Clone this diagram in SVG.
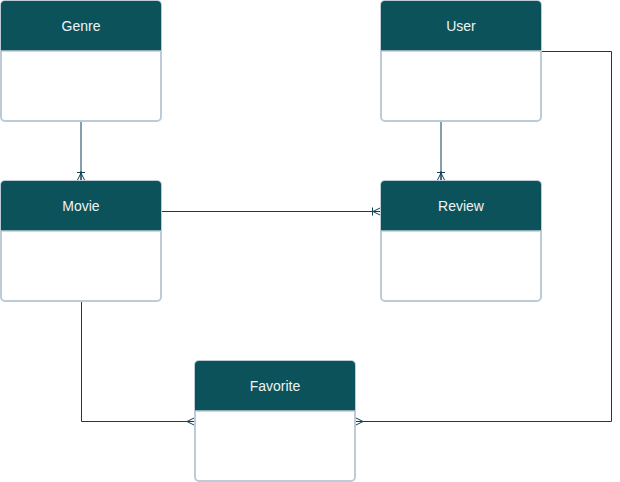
<svg xmlns="http://www.w3.org/2000/svg" width="620" height="482" viewBox="0 0 620 482">
  <style>
    .box { fill: #ffffff; stroke: #bccbd6; stroke-width: 2; }
    .head { fill: #0b525b; }
    .sep { stroke: #bccbd6; stroke-width: 1.5; }
    .title { font-family: "Liberation Sans", Arial, sans-serif; font-size: 14px; fill: #eef4f4; text-anchor: middle; }
    .link { fill: none; stroke: #0e3f57; stroke-width: 1; }
  </style>
  <defs>
    <!-- one-or-many end: bar plus crow's foot -->
    <marker id="oneMany" markerUnits="userSpaceOnUse" viewBox="0 0 10 10" refX="10" refY="5" markerWidth="10" markerHeight="10" orient="auto">
      <path d="M1.5 1 L1.5 9 M2 5 L10 1 M2 5 L10 9 M0 5 L10 5" fill="none" stroke="#0e3f57" stroke-width="1"/>
    </marker>
    <!-- many end: crow's foot only -->
    <marker id="many" markerUnits="userSpaceOnUse" viewBox="0 0 10 10" refX="10" refY="5" markerWidth="10" markerHeight="10" orient="auto">
      <path d="M2 5 L10 1 M2 5 L10 9 M0 5 L10 5" fill="none" stroke="#0e3f57" stroke-width="1"/>
    </marker>
  </defs>

  <g id="connectors">
    <path class="link" d="M81 122 L81 181" marker-end="url(#oneMany)"/>
    <path class="link" d="M441 122 L441 181" marker-end="url(#oneMany)"/>
    <path class="link" d="M162 211.5 L381 211.5" marker-end="url(#oneMany)"/>
    <path class="link" d="M81.5 302 L81.5 421.5 L195 421.5" marker-end="url(#many)"/>
    <path class="link" d="M542 51.5 L611.5 51.5 L611.5 421.5 L355 421.5" marker-end="url(#many)"/>
  </g>

  <g id="genre">
    <rect class="box" x="1" y="1" width="160" height="120" rx="4"/>
    <path class="head" d="M1 5 Q1 1 5 1 L157 1 Q161 1 161 5 L161 51 L1 51 Z"/>
    <line class="sep" x1="1" y1="51" x2="161" y2="51"/>
    <text class="title" x="81" y="31">Genre</text>
  </g>

  <g id="user">
    <rect class="box" x="381" y="1" width="160" height="120" rx="4"/>
    <path class="head" d="M381 5 Q381 1 385 1 L537 1 Q541 1 541 5 L541 51 L381 51 Z"/>
    <line class="sep" x1="381" y1="51" x2="541" y2="51"/>
    <text class="title" x="461" y="31">User</text>
  </g>

  <g id="movie">
    <rect class="box" x="1" y="181" width="160" height="120" rx="4"/>
    <path class="head" d="M1 185 Q1 181 5 181 L157 181 Q161 181 161 185 L161 231 L1 231 Z"/>
    <line class="sep" x1="1" y1="231" x2="161" y2="231"/>
    <text class="title" x="81" y="211">Movie</text>
  </g>

  <g id="review">
    <rect class="box" x="381" y="181" width="160" height="120" rx="4"/>
    <path class="head" d="M381 185 Q381 181 385 181 L537 181 Q541 181 541 185 L541 231 L381 231 Z"/>
    <line class="sep" x1="381" y1="231" x2="541" y2="231"/>
    <text class="title" x="461" y="211">Review</text>
  </g>

  <g id="favorite">
    <rect class="box" x="195" y="361" width="160" height="120" rx="4"/>
    <path class="head" d="M195 365 Q195 361 199 361 L351 361 Q355 361 355 365 L355 411 L195 411 Z"/>
    <line class="sep" x1="195" y1="411" x2="355" y2="411"/>
    <text class="title" x="275" y="391">Favorite</text>
  </g>
</svg>
